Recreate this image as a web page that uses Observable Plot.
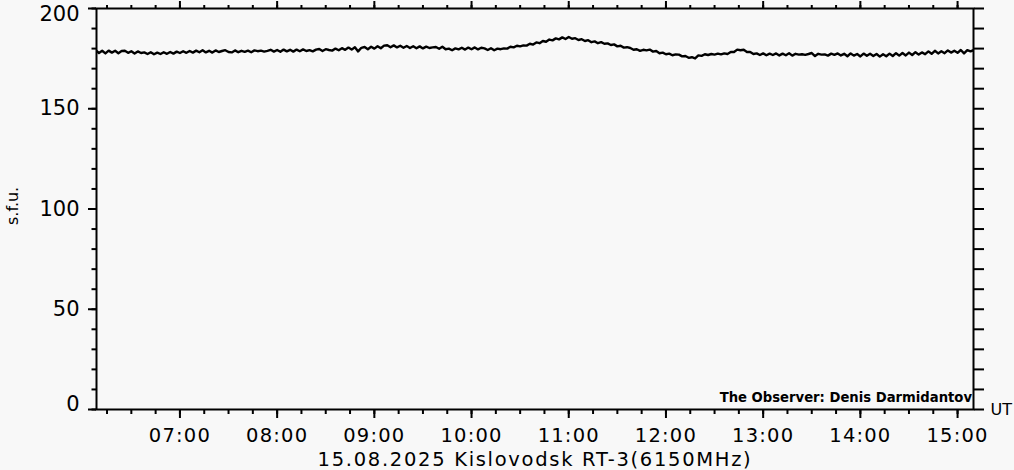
<!DOCTYPE html>
<html><head><meta charset="utf-8">
<script src="https://cdn.jsdelivr.net/npm/d3@7"></script>
<script src="https://cdn.jsdelivr.net/npm/@observablehq/plot@0.6"></script>
<style>
html,body{margin:0;padding:0;background:#f8f8f8;overflow:hidden}
</style></head><body><div id="chart"></div>
<script>
// ---- data ----
const day = "2025-08-15";
const startTime = "06:08";
const stepMinutes = 2;
const flux = [
179.2,177.8,178.9,177.6,179.0,178.0,178.9,177.7,178.8,178.9,177.9,178.7,177.6,178.6,177.8,
178.1,177.3,178.2,177.2,178.0,177.3,178.2,177.4,178.3,177.5,178.5,177.8,178.7,177.9,178.8,
178.0,179.0,178.2,179.2,178.1,178.9,178.0,179.1,178.3,178.8,179.2,178.3,178.1,179.1,178.2,
178.9,178.4,179.0,178.2,179.1,178.7,179.0,178.5,178.9,179.4,178.5,179.3,178.4,179.5,178.6,
179.4,178.5,179.5,178.7,179.6,178.8,179.2,178.6,179.5,179.8,178.8,179.7,179.3,179.0,180.0,
179.2,180.2,179.4,180.5,179.5,180.7,178.6,180.4,180.8,179.7,180.9,180.0,181.2,180.2,181.5,
181.7,180.7,181.6,180.6,181.4,180.4,181.3,180.3,181.2,180.2,181.1,180.1,181.0,180.3,180.6,
180.8,179.9,180.9,179.7,180.0,179.2,180.1,179.6,180.4,179.5,180.5,179.7,180.6,179.6,180.4,
180.1,179.3,180.2,179.2,180.0,179.7,180.1,180.0,180.9,180.6,181.4,181.1,181.6,181.5,182.4,
182.0,183.1,182.7,183.8,183.4,184.5,184.1,185.1,184.6,185.6,184.8,185.8,184.9,185.2,184.3,
184.7,183.8,184.2,183.2,183.6,182.7,183.2,182.4,182.6,181.8,182.1,181.1,181.4,180.5,180.7,
180.3,179.4,179.7,178.9,179.4,179.1,179.5,178.5,178.8,177.7,178.0,177.2,177.5,176.7,177.1,
177.0,176.1,176.3,175.4,175.7,175.1,176.6,176.4,177.2,176.8,177.3,177.0,177.5,177.1,177.6,
177.3,178.3,178.3,179.5,179.2,179.4,178.3,178.3,177.3,177.6,176.8,177.6,176.7,177.5,176.8,
177.6,176.6,177.5,176.7,177.7,176.5,177.4,177.0,177.2,176.9,177.3,177.8,176.3,177.4,177.0,
177.1,176.5,177.5,176.9,177.6,176.6,177.4,176.2,177.6,176.5,177.3,176.1,177.5,176.4,177.4,
176.3,177.3,176.0,177.2,176.2,177.5,176.3,177.7,176.5,177.8,176.6,178.0,176.8,178.2,177.0,
178.1,177.2,178.6,177.4,178.9,177.6,178.7,177.7,179.1,178.0,178.9,177.9,179.3,177.6,179.2,
178.6,179.3
];
const xTickLabels = ["07:00","08:00","09:00","10:00","11:00","12:00","13:00","14:00","15:00"];
const xRange = ["06:08:30","15:09:50"];
const yDomain = [0, 200];
const yMajorTicks = [0, 50, 100, 150, 200];
const yMinorStep = 10;
const title = "15.08.2025 Kislovodsk RT-3(6150MHz)";
const yLabel = "s.f.u.";
const xUnit = "UT";
const observer = "The Observer: Denis Darmidantov";

// ---- derived ----
const t0 = new Date(`${day}T${startTime}:00Z`);
const data = flux.map((v, i) => ({time: new Date(+t0 + i * stepMinutes * 60000), flux: v}));
const xTicks = xTickLabels.map(s => new Date(`${day}T${s}:00Z`));
const xDomain = xRange.map(s => new Date(`${day}T${s}Z`));
const quarterTicks = d3.utcMinute.every(15).range(xDomain[0], xDomain[1]);
const yMinor = d3.range(yDomain[0], yDomain[1] + 1, yMinorStep);
const fmt = d3.utcFormat("%H:%M");
const blank = () => "";

const chart = Plot.plot({
  width: 1014,
  height: 470,
  marginLeft: 96,
  marginRight: 41,
  marginTop: 8,
  marginBottom: 61,
  style: {fontFamily: "DejaVu Sans", background: "#f8f8f8", color: "black", overflow: "visible"},
  x: {type: "utc", domain: xDomain},
  y: {domain: yDomain},
  marks: [
    Plot.lineY(data, {x: "time", y: "flux", stroke: "black", strokeWidth: 2.4, clip: true}),
    Plot.frame({stroke: "black", strokeWidth: 2}),
    // left axis
    Plot.axisY(yMinor, {anchor: "left", label: null, tickSize: 4.5, tickFormat: blank, strokeWidth: 2}),
    Plot.axisY(yMajorTicks, {anchor: "left", label: null, tickSize: 8, tickFormat: blank, strokeWidth: 2}),
    // right axis
    Plot.axisY(yMinor, {anchor: "right", label: null, tickSize: 10, tickFormat: blank, strokeWidth: 2}),
    // bottom axis
    Plot.axisX(quarterTicks, {anchor: "bottom", label: null, tickSize: 5, tickFormat: blank, strokeWidth: 2}),
    Plot.axisX(xTicks, {anchor: "bottom", label: null, tickSize: 9, tickPadding: 10, tickFormat: fmt, fontSize: 19.5, strokeWidth: 2}),
    // top axis
    Plot.axisX(quarterTicks, {anchor: "top", label: null, tickSize: 4, tickFormat: blank, strokeWidth: 2}),
    Plot.axisX(xTicks, {anchor: "top", label: null, tickSize: 8, tickFormat: blank, strokeWidth: 2}),
    // y tick labels
    Plot.text(yMajorTicks.filter(d => d > yDomain[0] && d < yDomain[1]), {y: d => d, text: d => String(d), frameAnchor: "left", textAnchor: "end", dx: -17, fontSize: 21}),
    Plot.text([yDomain[0]], {y: d => d, text: d => String(d), frameAnchor: "left", textAnchor: "end", dx: -17, dy: -5.5, fontSize: 21}),
    Plot.text([yDomain[1]], {y: d => d, text: d => String(d), frameAnchor: "left", textAnchor: "end", dx: -17, dy: 6, fontSize: 21}),
    // labels
    Plot.text([title], {text: d => d, frameAnchor: "bottom", dy: 56.3, lineAnchor: "bottom", fontSize: 19.5}),
    Plot.text([xUnit], {text: d => d, frameAnchor: "bottom-right", dx: 17, textAnchor: "start", lineAnchor: "middle", fontSize: 16}),
    Plot.text([yLabel], {text: d => d, frameAnchor: "left", dx: -79, dy: 16, rotate: -90, lineAnchor: "bottom", fontSize: 16}),
    Plot.text([observer], {text: d => d, frameAnchor: "bottom-right", dx: -1.5, dy: -7.3, textAnchor: "end", lineAnchor: "bottom", fontSize: 13.2, fontWeight: "bold"})
  ]
});
// widen the lettering of the bottom texts to match the reference's wide font
d3.select(chart).selectAll("text").each(function() {
  const s = this.textContent;
  if (s === title) this.style.letterSpacing = "1.7px";
  else if (xTickLabels.includes(s)) this.style.letterSpacing = "1.2px";
});
document.getElementById("chart").appendChild(chart);
</script>
</body></html>
